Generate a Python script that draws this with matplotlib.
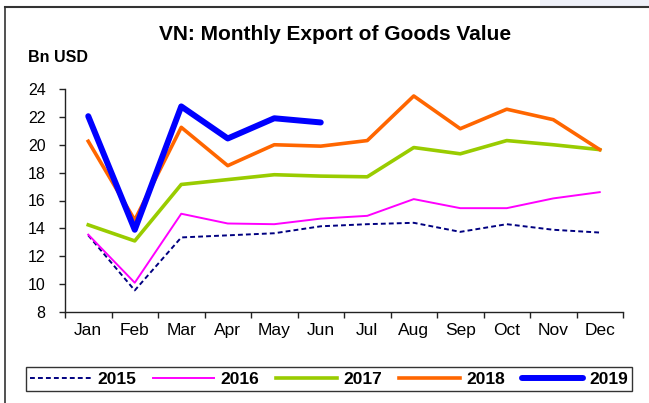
import matplotlib
matplotlib.use("Agg")
import matplotlib.pyplot as plt
from matplotlib.lines import Line2D
from matplotlib.patches import Polygon

plt.rcParams['font.family'] = ['Liberation Sans', 'DejaVu Sans']

# data (Bn USD)
months = ['Jan', 'Feb', 'Mar', 'Apr', 'May', 'Jun',
          'Jul', 'Aug', 'Sep', 'Oct', 'Nov', 'Dec']
exp_2015 = [13.5, 9.55, 13.35, 13.5, 13.65, 14.15, 14.3, 14.4, 13.75, 14.3, 13.9, 13.7]
exp_2016 = [13.55, 10.1, 15.05, 14.35, 14.3, 14.7, 14.9, 16.1, 15.45, 15.45, 16.15, 16.6]
exp_2017 = [14.25, 13.1, 17.15, 17.5, 17.85, 17.75, 17.7, 19.8, 19.35, 20.3, 20.0, 19.65]
exp_2018 = [20.25, 14.6, 21.25, 18.5, 20.0, 19.9, 20.3, 23.5, 21.15, 22.55, 21.8, 19.65]
exp_2019 = [22.05, 13.9, 22.75, 20.45, 21.9, 21.6]
years = ['2015', '2016', '2017', '2018', '2019']

W, H = 649, 403
fig = plt.figure(figsize=(W / 100, H / 100), dpi=100)

# outer frame (left and top edges only visible) + light band top right
fig.patches.append(Polygon([[540 / W, 1], [1, 1], [1, 1 - 6 / H], [540 / W, 1 - 6 / H]],
                           closed=True, transform=fig.transFigure,
                           facecolor='#eef0f8', edgecolor='none'))
fig.lines.append(Line2D([5 / W, 5 / W], [0, 1 - 6.5 / H], transform=fig.transFigure,
                        color='#333333', lw=1.2))
fig.lines.append(Line2D([5 / W, 1], [1 - 6.5 / H, 1 - 6.5 / H], transform=fig.transFigure,
                        color='#333333', lw=1.5))

ax = fig.add_axes([65 / W, 1 - 312 / H, (623 - 65) / W, (312 - 89) / H])

x = list(range(len(months)))
ax.plot(x, exp_2015, color='#000080', lw=1.4, dashes=(2.5, 1.6), label=years[0])
ax.plot(x, exp_2016, color='#ff00ff', lw=1.4, label=years[1])
ax.plot(x, exp_2017, color='#99cc00', lw=2.6, label=years[2])
ax.plot(x, exp_2018, color='#ff6600', lw=2.6, label=years[3])
ax.plot(x[:len(exp_2019)], exp_2019, color='#0000ff', lw=4.3,
        solid_capstyle='round', label=years[4])

ax.set_xlim(-0.5, 11.5)
ax.set_ylim(8, 24)
ax.set_yticks(range(8, 25, 2))
ax.set_xticks(x)
ax.set_xticklabels(months, fontsize=12.5)
ax.set_xticks([i - 0.5 for i in range(13)], minor=True)
ax.tick_params(axis='x', which='major', length=0, pad=8)
ax.tick_params(axis='x', which='minor', length=4, width=1, color='#222222')
ax.tick_params(axis='y', length=4, width=1, color='#222222', labelsize=11.5, pad=10)

for s in ['top', 'right']:
    ax.spines[s].set_visible(False)
for s in ['left', 'bottom']:
    ax.spines[s].set_color('#222222')
    ax.spines[s].set_linewidth(1)

fig.text(335 / W, 1 - 34 / H, 'VN: Monthly Export of Goods Value',
         ha='center', va='center', fontsize=15, fontweight='bold')
fig.text(28 / W, 1 - 57.5 / H, 'Bn USD', ha='left', va='center',
         fontsize=11.5, fontweight='bold')

leg = fig.legend(loc='center', bbox_to_anchor=(329 / W, 1 - 379 / H), ncol=5,
                 frameon=True, fancybox=False, edgecolor='black',
                 prop={'weight': 'bold', 'size': 12.5},
                 handlelength=3.5, handletextpad=0.35, columnspacing=1.0,
                 borderpad=0.25, borderaxespad=0)
leg.get_frame().set_linewidth(1)

fig.savefig('out.png', dpi=100)
